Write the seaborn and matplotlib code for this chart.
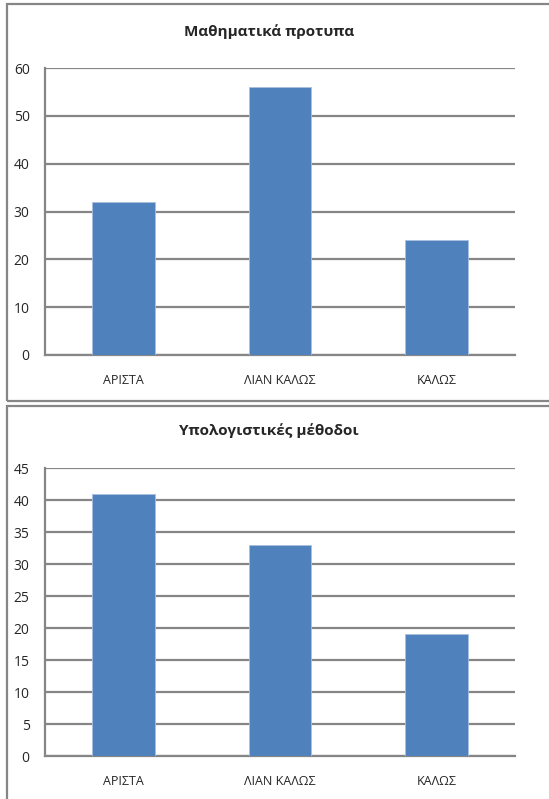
import matplotlib
matplotlib.use("Agg")
import matplotlib.pyplot as plt
from matplotlib.patches import Rectangle
import pandas as pd
import seaborn as sns

# Grades and number of students per grade, for each course
grades = ["ΑΡΙΣΤΑ", "ΛΙΑΝ ΚΑΛΩΣ", "ΚΑΛΩΣ"]
math_models = [32, 56, 24]
computational_methods = [41, 33, 19]

titles = ["Μαθηματικά προτυπα", "Υπολογιστικές μέθοδοι"]
y_ticks_top = [0, 10, 20, 30, 40, 50, 60]
y_ticks_bottom = [0, 5, 10, 15, 20, 25, 30, 35, 40, 45]

sns.set_style("white")
plt.rcParams["font.family"] = ["Open Sans", "DejaVu Sans"]

W, H = 549, 799
fig = plt.figure(figsize=(W / 100, H / 100), dpi=100)

BAR = "#4F81BD"
GRID = "#868686"


def px_rect(x0, y0, x1, y1):
    """Convert a pixel box (top-left origin) to figure fractions."""
    return [x0 / W, 1 - y1 / H, (x1 - x0) / W, (y1 - y0) / H]


# Chart frames
for (x0, y0, x1, y1) in [(7, 4, 560, 401), (7, 406, 560, 830)]:
    fig.patches.append(Rectangle((x0 / W, 1 - y1 / H), (x1 - x0) / W, (y1 - y0) / H,
                                 transform=fig.transFigure, fill=False,
                                 edgecolor=GRID, linewidth=1.6, zorder=0))

panels = [
    (math_models, titles[0], y_ticks_top, (45, 68, 515, 355), 32),
    (computational_methods, titles[1], y_ticks_bottom, (45, 468, 515, 756), 431),
]

for values, title, ticks, box, title_y in panels:
    ax = fig.add_axes(px_rect(*box))
    df = pd.DataFrame({"grade": grades, "count": values})
    sns.barplot(data=df, x="grade", y="count", color=BAR, saturation=1,
                width=0.4, ax=ax, edgecolor="#a9c1df", linewidth=0.6, zorder=3)
    ax.set_xlim(-0.5, 2.5)
    ax.set_ylim(ticks[0], ticks[-1])
    ax.set_yticks(ticks)
    ax.set_xlabel("")
    ax.set_ylabel("")
    ax.yaxis.grid(True, color=GRID, linewidth=1.6, zorder=0)
    ax.set_axisbelow(True)
    for side in ["top", "right"]:
        ax.spines[side].set_visible(False)
    for side in ["left", "bottom"]:
        ax.spines[side].set_color(GRID)
        ax.spines[side].set_linewidth(1.6)
    ax.tick_params(axis="y", length=0, pad=11, labelsize=10)
    ax.tick_params(axis="x", length=0, pad=14, labelsize=9)
    fig.text(269 / W, 1 - title_y / H, title, ha="center", va="center",
             fontsize=11, fontweight="bold")

fig.savefig("out.png", dpi=100)
